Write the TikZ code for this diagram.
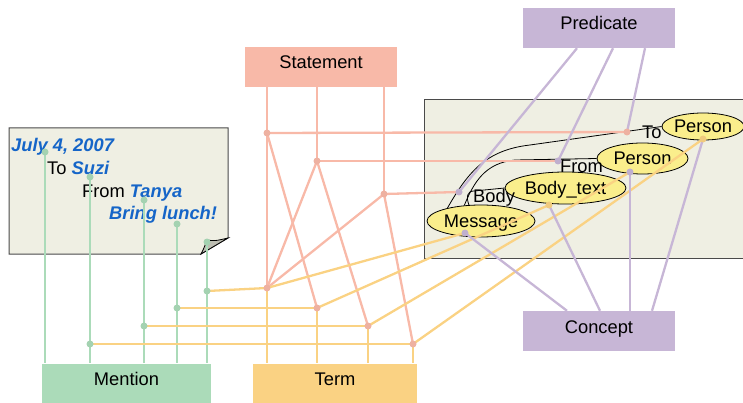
\documentclass[tikz,border=0pt]{standalone}
\usepackage{fontspec}
\setmainfont{Liberation Sans}
\usetikzlibrary{shapes.geometric,backgrounds}
\definecolor{stmtc}{HTML}{F8B9A8}
\definecolor{predc}{HTML}{C7B6D6}
\definecolor{mentc}{HTML}{ABDBB9}
\definecolor{termc}{HTML}{FAD283}
\definecolor{notec}{HTML}{EFEFE3}
\definecolor{ellc}{HTML}{FAEE8C}
\definecolor{bluec}{HTML}{1565C8}
\definecolor{foldc}{HTML}{BDBDB2}
\definecolor{edgec}{HTML}{4A4A4A}
\begin{document}
\begin{tikzpicture}[x=1pt,y=-1pt,
  font=\fontsize{18.3pt}{20pt}\selectfont,
  box/.style={rectangle, draw=none, minimum width=152pt, minimum height=40pt, inner sep=0pt, text height=22pt, text depth=18pt},
  ell/.style={ellipse, draw=black, line width=0.8pt, fill=ellc, inner sep=0pt, text height=13pt, text depth=0pt},
  lbl/.style={inner sep=0pt, anchor=base west},
  hl/.style={text=bluec, font=\fontsize{18.3pt}{20pt}\selectfont\bfseries\itshape},
  sline/.style={draw=stmtc, line width=2.3pt},
  pline/.style={draw=predc, line width=2.3pt},
  gline/.style={draw=mentc, line width=2.3pt},
  tline/.style={draw=termc, line width=2.3pt},
  curve/.style={draw=black, line width=0.8pt},
]
\useasboundingbox (0,0) rectangle (743,403);

\begin{scope}[on background layer]
% note
\path[fill=notec, draw=edgec, line width=1pt] (9,128) -- (228,128) -- (228,238) -- (201,254) -- (9,254) -- cycle;
\path[fill=foldc, draw=black, line width=0.8pt] (201,254) .. controls (204,248) .. (207,240) .. controls (215,241) .. (228,238) -- cycle;
% panel
\path[fill=notec, draw=edgec, line width=1pt] (760,100) -- (424,100) -- (424,258) -- (760,258);
\end{scope}

\node[lbl, hl] (date) at (11,152) {July 4, 2007};
\node[lbl] (to) at (47,175) {To \textcolor{bluec}{\bfseries\itshape Suzi}};
\node[lbl] (from) at (82,197) {From \textcolor{bluec}{\bfseries\itshape Tanya}};
\node[lbl, hl] (body) at (109,219) {Bring lunch!};

% boxes
\node[box, fill=stmtc] (stmt) at (321,67) {Statement};
\node[box, fill=predc] (pred) at (599,28) {Predicate};
\node[box, fill=predc] (conc) at (599,331) {Concept};
\node[box, fill=mentc, minimum width=169pt] (ment) at (126.5,383.5) {Mention};
\node[box, fill=termc, minimum width=164pt] (term) at (335,383.5) {Term};

% ellipses
\node[ell, minimum width=78pt, minimum height=27pt] (pto) at (703,126.5) {Person};
\node[ell, minimum width=91pt, minimum height=31pt] (pfrom) at (642.5,158.5) {Person};
\node[ell, minimum width=121pt, minimum height=32pt] (btext) at (565.5,188) {Body\_text};
\node[ell, minimum width=108pt, minimum height=32pt] (msg) at (481,221) {Message};

% relation curves (behind the ellipses)
\begin{scope}[on background layer]
\draw[curve] (msg.159) .. controls (468,172) and (486,150) .. (530,145) -- (pto.west);
\draw[curve] (msg.137) .. controls (474,182) and (485,163) .. (515,160) -- (pfrom.west);
\draw[curve] (msg.127) .. controls (466,197) and (467,191) .. (474,191) -- (btext.west);
\end{scope}
\node[lbl] (lto) at (642,139) {To};
\node[lbl] (lfrom) at (560,173) {From};
\node[lbl] (lbody) at (473,203) {Body};

% coordinates
\coordinate (m1) at (45,152);
\coordinate (m2) at (90,177);
\coordinate (m3) at (144,200);
\coordinate (m4) at (177,224);
\coordinate (m5) at (207,242);
\coordinate (j5) at (207,291);
\coordinate (j4) at (177,308);
\coordinate (j3) at (144,326);
\coordinate (j2) at (90,344);
\coordinate (t1) at (267,288);
\coordinate (t2) at (317,308);
\coordinate (t3) at (368,326);
\coordinate (t4) at (413,344);
\coordinate (s1) at (267,133);
\coordinate (s2) at (317,161);
\coordinate (s3) at (384,194);
\coordinate (p1) at (627,132);
\coordinate (p2) at (558,161);
\coordinate (p3) at (459,192);
\coordinate (emsg) at (465,233);
\coordinate (ebody) at (549,205);
\coordinate (efrom) at (630,172);
\coordinate (eto) at (703,139);

% mention lines
\foreach \m in {m1,m2,m3,m4,m5} \draw[gline] (\m) -- (\m |- ment.north);

% statement lines
\foreach \s in {s1,s2,s3} \draw[sline] (stmt.south -| \s) -- (\s);
\draw[sline] (s1) -- (t1);
\draw[sline] (s1) -- (t2);
\draw[sline] (s2) -- (t1);
\draw[sline] (s2) -- (t3);
\draw[sline] (s3) -- (t1);
\draw[sline] (s3) -- (t4);
\draw[sline] (s1) -- (p1);
\draw[sline] (s2) -- (p2);
\draw[sline] (s3) -- (p3);

% term lines
\foreach \t in {t1,t2,t3,t4} \draw[tline] (\t) -- (\t |- term.north);
\draw[tline] (j5) -- (t1);
\draw[tline] (j4) -- (t2);
\draw[tline] (j3) -- (t3);
\draw[tline] (j2) -- (t4);
\draw[tline] (t1) -- (emsg);
\draw[tline] (t2) -- (ebody);
\draw[tline] (t3) -- (efrom);
\draw[tline] (t4) -- (eto);

% predicate and concept lines
\draw[pline] ([xshift=-22pt]pred.south) -- (p3);
\draw[pline] ([xshift=14pt]pred.south) -- (p2);
\draw[pline] ([xshift=46pt]pred.south) -- (p1);
\draw[pline] (emsg) -- ([xshift=-32pt]conc.north);
\draw[pline] (ebody) -- ([xshift=1pt]conc.north);
\draw[pline] (efrom) -- ([xshift=31pt]conc.north);
\draw[pline] (eto) -- ([xshift=53pt]conc.north);

% dots
\foreach \d in {m1,m2,m3,m4,m5,j5,j4,j3,j2} \fill[mentc!96!black] (\d) circle (3.5pt);
\foreach \d in {t1,t2,t3,t4,s1,s2,s3,p1} \fill[stmtc!96!black] (\d) circle (3.5pt);
\foreach \d in {p2,p3,emsg,efrom} \fill[predc!96!black] (\d) circle (3.5pt);
\foreach \d in {ebody,eto} \fill[termc!96!black] (\d) circle (3.5pt);
\end{tikzpicture}
\end{document}
